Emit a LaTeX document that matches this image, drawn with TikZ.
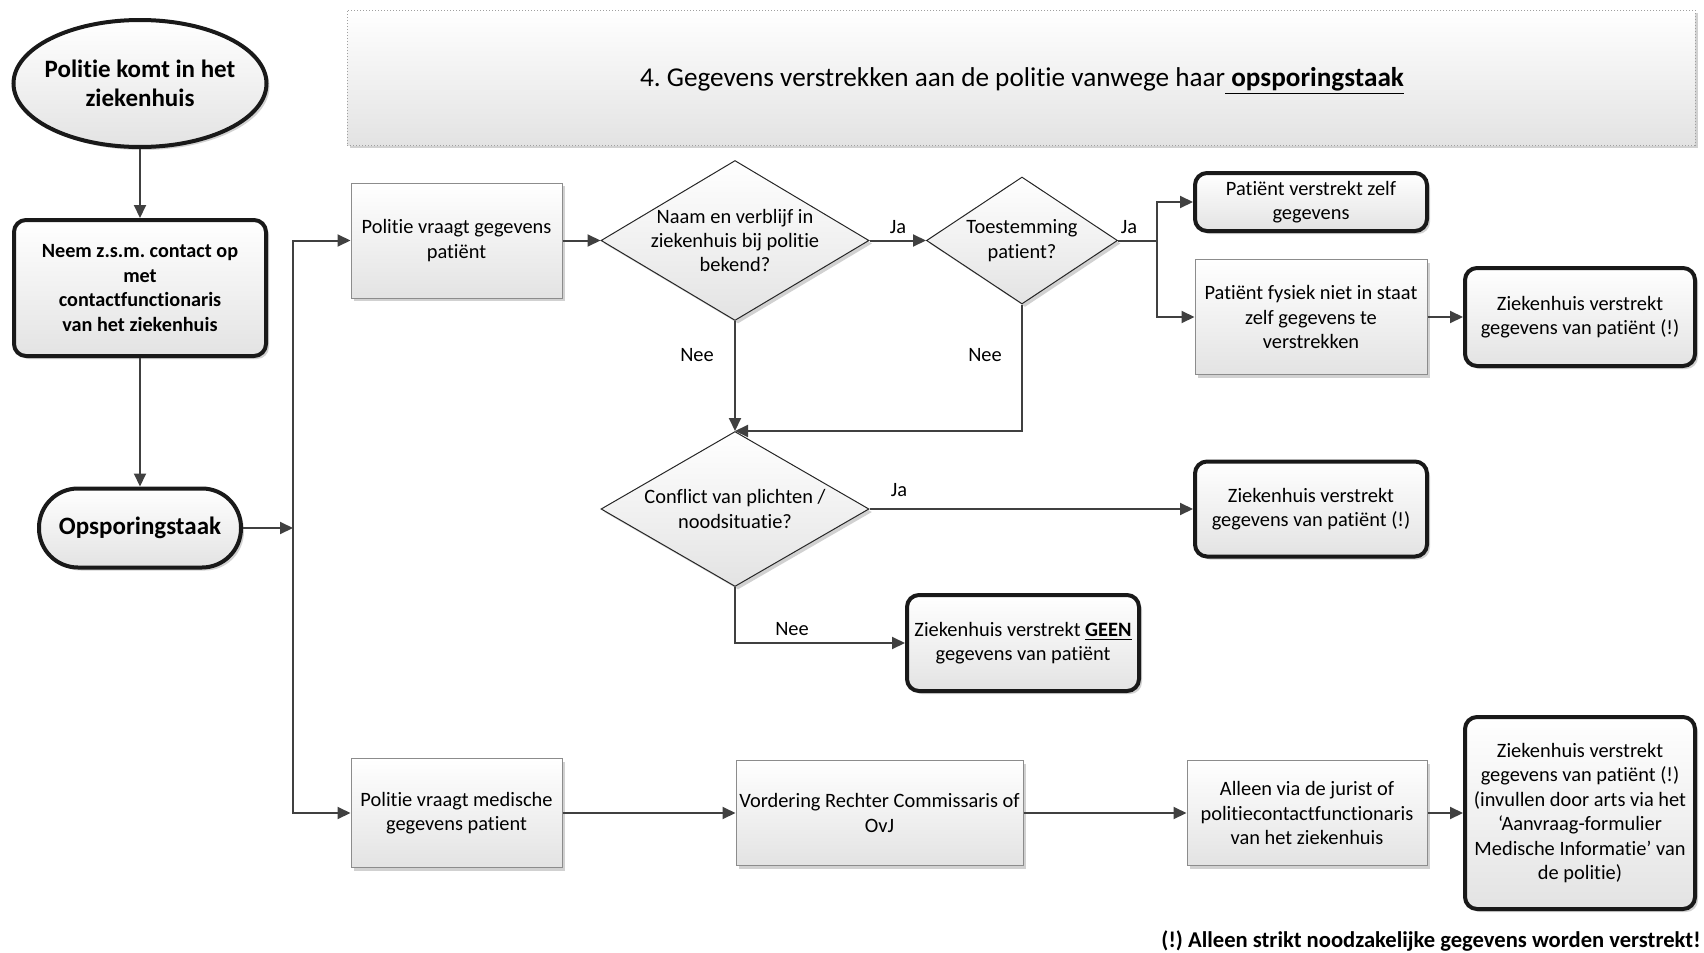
\documentclass[tikz,border=0pt]{standalone}
\usepackage{fontspec}
\setmainfont{Carlito}[Ligatures={NoCommon}]
\frenchspacing
\usetikzlibrary{shapes.geometric,shadows,arrows.meta}

\definecolor{linegray}{HTML}{404040}
\definecolor{boxedge}{HTML}{8C8C8C}
\definecolor{titleedge}{HTML}{A0A0A0}

\begin{document}
\begin{tikzpicture}[x=0.5pt,y=-0.5pt,
  txt/.style={align=center, inner sep=0pt, font=\fontsize{10.2}{12.2}\selectfont, text=black},
  shade/.style={drop shadow={shadow xshift=1.5pt, shadow yshift=-1.5pt, opacity=0.18, fill=black}},
  grad/.style={top color=white, bottom color=black!11},
  plainbox/.style={txt, grad, shade, draw=boxedge, line width=0.5pt, rectangle},
  endbox/.style={txt, grad, shade, draw=black!90, line width=2pt, rounded corners=6pt, rectangle},
  decision/.style={grad, shade, diamond, draw=black!85, line width=0.5pt, inner sep=0pt},
  arr/.style={draw=linegray, line width=1pt, -{Triangle[length=6.5pt,width=6pt]}},
  lbl/.style={font=\fontsize{10.2}{12.2}\selectfont, inner sep=0pt},
  boldtxt/.style={align=center, inner sep=0pt, font=\bfseries\fontsize{12.5}{14.5}\selectfont},
]
\useasboundingbox (0,0) rectangle (1704,953);

% title banner
\node[rectangle, grad, shade, draw=titleedge, densely dotted, line width=0.5pt,
      minimum width=674pt, minimum height=67.5pt, inner sep=0pt] (title) at (1021,77.5) {};
\node[inner sep=0pt, font=\fontsize{13.6}{16}\selectfont] (titletext) at (1022,81)
  {4. Gegevens verstrekken aan de politie vanwege haar\underline{\textbf{ opsporingstaak}}};

% left column
\node[ellipse, grad, shade, draw=black!90, line width=2pt, minimum width=126.5pt,
      minimum height=63.5pt, inner sep=0pt] (start) at (140,83.5) {};
\node[boldtxt] (starttext) at (start) {Politie komt in het\\ziekenhuis};

\node[endbox, minimum width=126pt, minimum height=68pt,
      font=\bfseries\fontsize{10.1}{12.2}\selectfont] (contact) at (140,288)
  {Neem z.s.m. contact op\\met\\contactfunctionaris\\van het ziekenhuis};

\node[rectangle, grad, shade, draw=black!90, line width=2pt, rounded corners=19.5pt,
      minimum width=101pt, minimum height=39.5pt, boldtxt] (task) at (140,528)
  {Opsporingstaak};

\coordinate (bus) at (293,528);

% upper flow
\node[plainbox, minimum width=105.5pt, minimum height=57.5pt] (ask) at (456.5,240.5)
  {Politie vraagt gegevens\\patiënt};

\node[decision, minimum width=134pt, minimum height=80pt] (known) at (735,240.5) {};
\node[txt] (knowntext) at (known) {Naam en verblijf in\\ziekenhuis bij politie\\bekend?};

\node[decision, minimum width=95.5pt, minimum height=63.5pt] (consent) at (1022,240.5) {};
\node[txt] (consenttext) at (consent) {Toestemming\\patient?};

\coordinate (split) at (1157,240.5);

\node[endbox, minimum width=116pt, minimum height=29pt] (self) at (1311,202)
  {Patiënt verstrekt zelf\\gegevens};
\node[plainbox, minimum width=116pt, minimum height=57.5pt] (unable) at (1311,317)
  {Patiënt fysiek niet in staat\\zelf gegevens te\\verstrekken};
\node[endbox, minimum width=115pt, minimum height=49pt] (hosp1) at (1580,317)
  {Ziekenhuis verstrekt\\gegevens van patiënt (!)};

\node[decision, minimum width=134pt, minimum height=77.5pt] (conflict) at (735,509) {};
\node[txt] (conflicttext) at (conflict) {Conflict van plichten /\\noodsituatie?};

\node[endbox, minimum width=116pt, minimum height=47.5pt] (hosp2) at (1311,509)
  {Ziekenhuis verstrekt\\gegevens van patiënt (!)};
\node[endbox, minimum width=116pt, minimum height=48pt] (nodata) at (1023,643)
  {Ziekenhuis verstrekt \underline{\textbf{GEEN}}\\gegevens van patiënt};

% lower flow
\node[plainbox, minimum width=105.5pt, minimum height=54.5pt] (medical) at (456.5,813)
  {Politie vraagt medische\\gegevens patient};
\node[plainbox, minimum width=143.5pt, minimum height=52.5pt] (claim) at (879.5,813)
  {Vordering Rechter Commissaris of\\OvJ};
\node[plainbox, minimum width=120pt, minimum height=52.5pt] (jurist) at (1307,813)
  {Alleen via de jurist of\\politiecontactfunctionaris\\van het ziekenhuis};
\node[endbox, minimum width=115pt, minimum height=96pt] (hosp3) at (1580,813)
  {Ziekenhuis verstrekt\\gegevens van patiënt (!)\\(invullen door arts via het\\‘Aanvraag-formulier\\Medische Informatie’ van\\de politie)};

\node[anchor=east, inner sep=0pt, font=\bfseries\fontsize{11.3}{13}\selectfont] (note) at (1701,941)
  {(!) Alleen strikt noodzakelijke gegevens worden verstrekt!};

% connectors
\draw[arr] (start) -- (contact);
\draw[arr] (contact) -- (task);
\draw[arr] (task.east) -- (bus);
\draw[arr] (bus) |- (ask.west);
\draw[arr] (bus) |- (medical.west);

\draw[arr] (ask.east) -- (known.west);
\draw[arr] (known.east) -- (consent.west);
\draw[arr] (consent.east) -- (split) |- (self.west);
\draw[arr] (split) |- (unable.west);
\draw[arr] (unable.east) -- (hosp1.west);

\draw[arr] (known.south) -- (conflict.north);
\draw[arr] (consent.south) |- (conflict.north);
\draw[arr] (conflict.east) -- (hosp2.west);
\draw[arr] (conflict.south) |- (nodata.west);

\draw[arr] (medical.east) -- (claim.west);
\draw[arr] (claim.east) -- (jurist.west);
\draw[arr] (jurist.east) -- (hosp3.west);

% branch labels
\node[lbl] (ja1) at (898,227) {Ja};
\node[lbl] (ja2) at (1129,227) {Ja};
\node[lbl] (ja3) at (899,490) {Ja};
\node[lbl] (nee1) at (697,355) {Nee};
\node[lbl] (nee2) at (985,355) {Nee};
\node[lbl] (nee3) at (792,629) {Nee};
\end{tikzpicture}
\end{document}
